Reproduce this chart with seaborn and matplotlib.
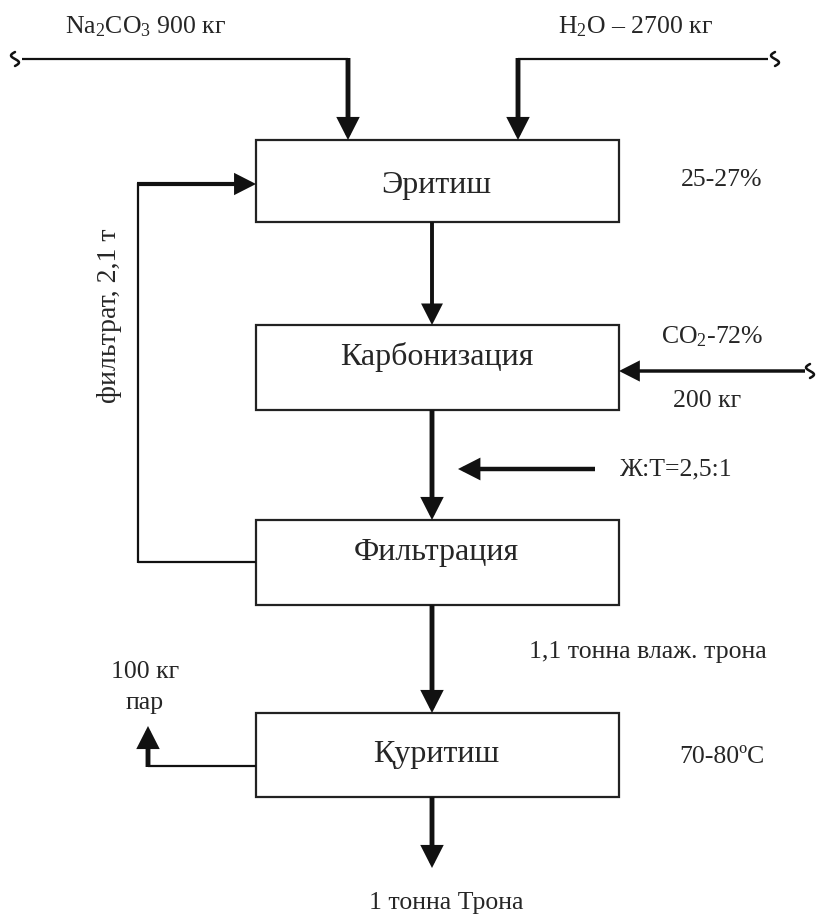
import matplotlib
matplotlib.use("Agg")
import matplotlib.pyplot as plt
import seaborn as sns
import numpy as np

# ─────────────────────────────────────────
# DATA — process steps and stream labels
# ─────────────────────────────────────────
steps        = ["Эритиш", "Карбонизация", "Фильтрация", "Қуритиш"]
step_notes   = ["25-27%", "", "", "70-80ºC"]
feed_na2co3  = "Na$_2$CO$_3$ 900 кг"
feed_h2o     = "H$_2$O – 2700 кг"
co2_top      = "CO$_2$-72%"
co2_bottom   = "200 кг"
ratio_label  = "Ж:Т=2,5:1"
wet_trona    = "1,1 тонна влаж. трона"
filtrate     = "фильтрат, 2,1 т"
steam        = ["100 кг", "пар"]
product      = "1 тонна Трона"

# ─────────────────────────────────────────
# LAYOUT (pixel space, y down)
# ─────────────────────────────────────────
W, H = 826, 924
box_x0, box_x1 = 256, 619
box_rows = [(140, 222), (325, 410), (520, 605), (713, 797)]
label_base = [193, 365, 560, 762]
note_y   = [180, None, None, 757]
cx = 432
FS_BOX, FS = 23, 18.5

sns.set_theme(style="white")
plt.rcParams['font.family'] = ['Liberation Serif', 'DejaVu Serif']
plt.rcParams['mathtext.fontset'] = 'custom'
plt.rcParams['mathtext.rm'] = 'Liberation Serif'
plt.rcParams['mathtext.default'] = 'regular'

fig = plt.figure(figsize=(W / 100, H / 100), dpi=100)
ax = fig.add_axes([0, 0, 1, 1])
ax.set_xlim(0, W)
ax.set_ylim(H, 0)
ax.axis('off')

K = '#111111'


def line(xs, ys, lw=1.5):
    ax.plot(xs, ys, color=K, lw=lw, solid_capstyle='butt')


def arrow(start, end, lw=3.0):
    ax.annotate('', xy=end, xytext=start,
                arrowprops=dict(arrowstyle='-|>,head_length=0.55,head_width=0.28',
                                lw=lw, color=K, shrinkA=0, shrinkB=0,
                                mutation_scale=20, joinstyle='miter',
                                capstyle='butt'))


def brk(x, y):
    # small break mark at line end
    t = np.linspace(-1, 1, 20)
    ax.plot(x + 4 * np.sin(t * np.pi), y + 7 * t, color=K, lw=1.8)


# boxes
for name, (y0, y1), by, note, ny in zip(steps, box_rows, label_base, step_notes, note_y):
    ax.add_patch(plt.Rectangle((box_x0, y0), box_x1 - box_x0, y1 - y0,
                               fill=False, ec='#222222', lw=1.6))
    ax.text((box_x0 + box_x1) / 2 - 1, by, name,
            ha='center', va='baseline', fontsize=FS_BOX)
    if note:
        ax.text(722, ny, note, ha='center', va='center', fontsize=FS)

# feeds at top
line([22, 348], [59, 59], lw=1.6)
brk(15, 59)
arrow((348, 58), (348, 140), lw=3.5)
ax.text(146, 27, feed_na2co3, ha='center', va='center', fontsize=FS)

line([518, 768], [59, 59], lw=1.6)
brk(775, 59)
arrow((518, 58), (518, 140), lw=3.5)
ax.text(636, 27, feed_h2o, ha='center', va='center', fontsize=FS)

# main vertical flow
arrow((cx, 222), (cx, 325), lw=2.8)
arrow((cx, 410), (cx, 520), lw=3.5)
arrow((cx, 605), (cx, 713), lw=3.5)
arrow((cx, 797), (cx, 868), lw=3.5)

# CO2 feed
arrow((805, 371), (619, 371), lw=2.5)
brk(810, 371)
ax.text(712, 337, co2_top, ha='center', va='center', fontsize=FS)
ax.text(707, 401, co2_bottom, ha='center', va='center', fontsize=FS)

# L:S ratio
arrow((595, 469), (458, 469), lw=3.2)
ax.text(676, 469, ratio_label, ha='center', va='center', fontsize=FS)

# filtrate recycle
line([256, 138], [562, 562], lw=1.6)
line([138, 138], [563, 183], lw=1.6)
arrow((137, 184), (256, 184), lw=3.0)
ax.text(110, 316, filtrate, ha='center', va='center', fontsize=20, rotation=90)

ax.text(648, 652, wet_trona, ha='center', va='center', fontsize=FS)

# steam outlet
line([256, 148], [766, 766], lw=1.6)
arrow((148, 767), (148, 726), lw=3.5)
ax.text(145, 672, steam[0], ha='center', va='center', fontsize=FS)
ax.text(145, 703, steam[1], ha='center', va='center', fontsize=FS)

ax.text(446, 903, product, ha='center', va='center', fontsize=FS)

fig.savefig("out.png", dpi=100, facecolor='white')
